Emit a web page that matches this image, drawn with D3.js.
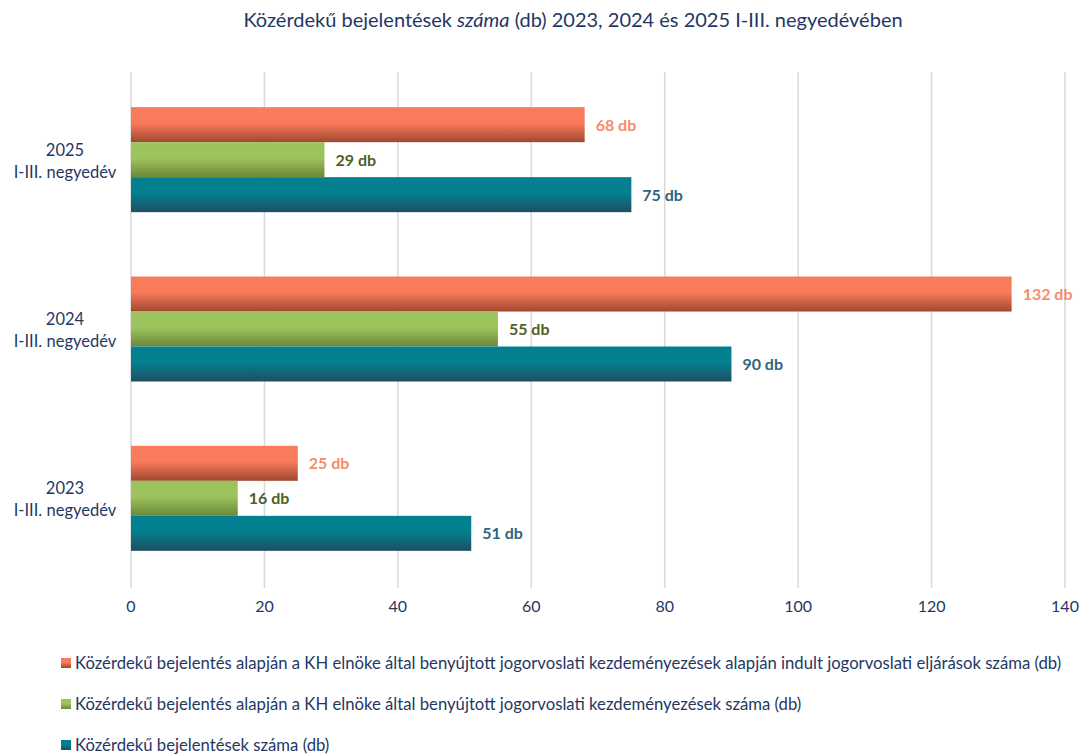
<!DOCTYPE html>
<html>
<head>
<meta charset="utf-8">
<script src="https://cdn.jsdelivr.net/npm/d3@7"></script>
<style>
  body { margin: 0; background: #fff; }
  svg text { font-family: Lato, "Open Sans", sans-serif; }
</style>
</head>
<body>
<svg width="1080" height="756"></svg>
<script>
const categories = ["2025", "2024", "2023"];
const categorySub = "I-III. negyedév";
const seriesNames = [
  "Közérdekű bejelentés alapján a KH elnöke által benyújtott jogorvoslati kezdeményezések alapján indult jogorvoslati eljárások száma (db)",
  "Közérdekű bejelentés alapján a KH elnöke által benyújtott jogorvoslati kezdeményezések száma (db)",
  "Közérdekű bejelentések száma (db)"
];
const eljarasok = [68, 132, 25];
const kezdemenyezesek = [29, 55, 16];
const bejelentesek = [75, 90, 51];
const xTicks = [0, 20, 40, 60, 80, 100, 120, 140];

const seriesValues = [eljarasok, kezdemenyezesek, bejelentesek];
const colorsTop = ["#F97B5B", "#9DC45C", "#03808F"];
const colorsBottom = ["#A0472F", "#6C873A", "#1E4E63"];
const labelColors = ["#F58C6C", "#4E6128", "#2F6580"];

const svg = d3.select("svg");
const margin = { left: 131, right: 15, top: 75, bottom: 173 };
const width = 1080, height = 756;

const x = d3.scaleLinear().domain([0, 140]).range([margin.left, width - margin.right]);
const y = d3.scaleBand().domain(categories).range([margin.top, height - margin.bottom])
  .paddingInner(0.38).paddingOuter(0.19);
const ys = d3.scaleBand().domain(d3.range(3)).range([0, y.bandwidth()]);

// gradients
const defs = svg.append("defs");
colorsTop.forEach((c, i) => {
  const g = defs.append("linearGradient").attr("id", "grad" + i)
    .attr("x1", 0).attr("y1", 0).attr("x2", 0).attr("y2", 1);
  g.append("stop").attr("offset", "0%").attr("stop-color", c);
  g.append("stop").attr("offset", "45%").attr("stop-color", c);
  g.append("stop").attr("offset", "100%").attr("stop-color", colorsBottom[i]);
});

// title
const title = svg.append("text").attr("x", 573).attr("y", 27).attr("text-anchor", "middle")
  .attr("fill", "#1F3864").style("font-size", "20px");
title.append("tspan").text("Közérdekű bejelentések ");
title.append("tspan").style("font-style", "italic").text("száma");
title.append("tspan").text(" (db) 2023, 2024 és 2025 I-III. negyedévében");

// grid
svg.append("g").selectAll("line").data(xTicks).join("line")
  .attr("x1", d => x(d)).attr("x2", d => x(d))
  .attr("y1", 72).attr("y2", 588)
  .attr("stroke", "#D9D9D9").attr("stroke-width", 1.5);

// x tick labels
svg.append("g").selectAll("text").data(xTicks).join("text")
  .attr("x", d => x(d)).attr("y", 612).attr("text-anchor", "middle")
  .attr("fill", "#1F3864").style("font-size", "16px")
  .text(d => d);

// category labels
const cat = svg.append("g").selectAll("text").data(categories).join("text")
  .attr("text-anchor", "middle").attr("fill", "#1F3864").style("font-size", "16.5px");
cat.append("tspan").attr("x", 65).attr("y", d => y(d) + y.bandwidth() / 2 - 4).text(d => d);
cat.append("tspan").attr("x", 65).attr("y", d => y(d) + y.bandwidth() / 2 + 18).text(categorySub);

// bars
seriesValues.forEach((vals, si) => {
  const g = svg.append("g");
  g.selectAll("rect").data(categories).join("rect")
    .attr("x", x(0))
    .attr("y", (d, i) => y(d) + ys(si))
    .attr("width", (d, i) => x(vals[i]) - x(0))
    .attr("height", ys.bandwidth())
    .attr("fill", "url(#grad" + si + ")");
  g.selectAll("text").data(categories).join("text")
    .attr("x", (d, i) => x(vals[i]) + 11)
    .attr("y", (d, i) => y(d) + ys(si) + ys.bandwidth() / 2 + 6)
    .attr("fill", labelColors[si])
    .style("font-size", "16px").style("font-weight", "bold")
    .text((d, i) => vals[i] + " db");
});

// legend
const leg = svg.append("g").selectAll("g").data(seriesNames).join("g")
  .attr("transform", (d, i) => `translate(61, ${669 + i * 41})`);
leg.append("rect").attr("x", 0).attr("y", -11).attr("width", 10).attr("height", 10)
  .attr("fill", (d, i) => "url(#grad" + i + ")");
leg.append("text").attr("x", 14).attr("y", 0).attr("fill", "#1F3864")
  .style("font-size", "16.7px").text(d => d);
</script>
</body>
</html>
